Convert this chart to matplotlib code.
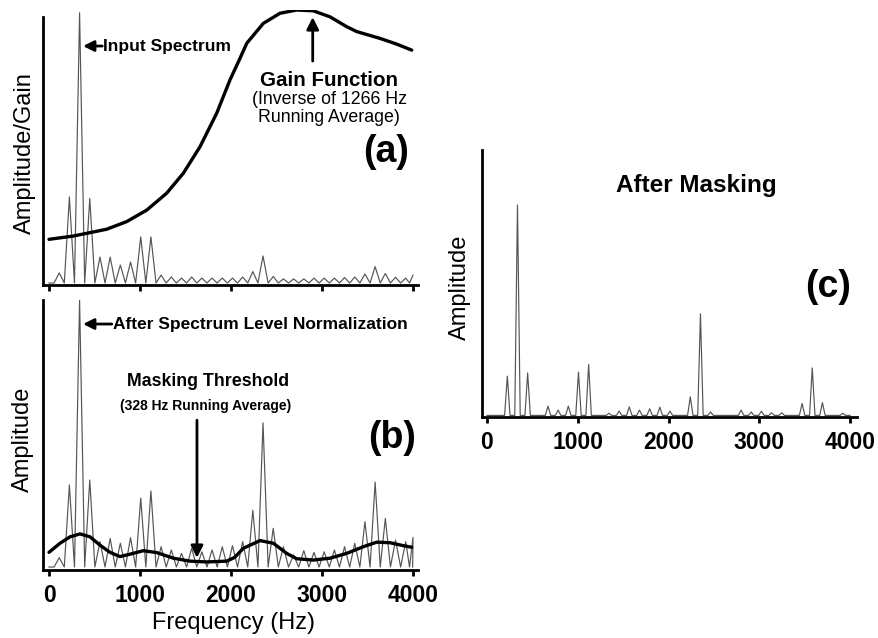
import matplotlib
matplotlib.use('Agg')
import matplotlib.pyplot as plt

plt.rcParams['font.family'] = ['Liberation Sans', 'DejaVu Sans']

###################################
# Data
###################################

# Harmonic frequencies (Hz), fundamental ~112 Hz
harmonicHz = [112, 224, 336, 448, 560, 672, 784, 896, 1008, 1120,
              1232, 1344, 1456, 1568, 1680, 1792, 1904, 2016, 2128, 2240,
              2352, 2464, 2576, 2688, 2800, 2912, 3024, 3136, 3248, 3360,
              3472, 3584, 3696, 3808, 3920]

# (a) input spectrum, peak height of each harmonic
inputPeaks = [3.7, 31.5, 99.0, 31.0, 9.5, 9.5, 6.6, 7.7, 16.9, 16.9,
              2.9, 2.2, 1.8, 2.2, 1.8, 1.8, 1.8, 1.8, 2.2, 4.2,
              9.9, 2.4, 1.5, 1.5, 1.5, 1.8, 1.8, 1.8, 2.0, 2.2,
              3.3, 6.0, 3.5, 2.1, 1.8]
inputEnd = 2.9

# (b) after spectrum level normalization
normPeaks = [3.5, 30.7, 100.0, 32.6, 9.5, 10.7, 8.9, 11.0, 25.8, 28.5,
             7.6, 6.4, 5.1, 7.0, 5.7, 6.4, 7.6, 8.0, 9.5, 21.3,
             54.0, 14.5, 7.6, 4.5, 6.1, 5.5, 5.7, 6.4, 7.6, 8.9,
             17.0, 31.8, 18.2, 10.1, 9.5]
normEnd = 11.1

# (c) after masking
maskedPeaks = [0, 14.8, 79.3, 16.0, 0, 3.5, 2.0, 3.5, 16.3, 19.2,
               0, 0.8, 1.6, 3.2, 2.0, 2.5, 3.1, 1.6, 0, 7.0,
               38.3, 1.3, 0, 0, 2.0, 1.3, 1.6, 1.0, 1.0, 0,
               4.5, 17.9, 4.8, 0, 0.8]

# Gain function (inverse of 1266 Hz running average)
gainHz = [0, 267, 634, 854, 1074, 1293, 1476, 1659, 1843, 1989, 2099,
          2173, 2355, 2538, 2722, 2904, 3088, 3271, 3381, 3637, 3821, 3986]
gainVal = [16.0, 17.2, 19.7, 22.5, 26.7, 32.9, 40.2, 49.9, 62.2, 74.4, 82.3,
           87.8, 95.1, 98.8, 100.0, 99.7, 97.5, 93.9, 92.1, 89.6, 87.5, 85.3]

# Masking threshold (328 Hz running average)
threshHz = [0, 121, 231, 341, 451, 560, 670, 780, 890, 1036, 1184, 1366,
            1549, 1733, 1953, 2040, 2135, 2319, 2465, 2612, 2722, 2904,
            3088, 3271, 3454, 3601, 3747, 3893, 3986]
threshVal = [5.5, 8.9, 11.3, 12.4, 11.3, 8.2, 5.5, 3.9, 4.8, 6.1, 5.4, 3.3,
             2.2, 1.9, 2.2, 3.6, 7.0, 9.9, 8.9, 5.1, 3.1, 2.6,
             3.3, 5.1, 7.6, 9.3, 9.1, 8.0, 7.4]

xTicks = [0, 1000, 2000, 3000, 4000]

specColor = '#555555'
W, H = 879, 638


def zigzag(peaks, endVal):
    # spectrum line: trough half way between harmonics, peak on harmonic
    xs, ys = [0], [0]
    for f, a in zip(harmonicHz, peaks):
        xs += [f - 56, f]
        ys += [0, a]
    xs += [3962, 4000]
    ys += [0, endVal]
    return xs, ys


def narrowPeaks(peaks, halfWidth=30):
    xs, ys = [0], [0]
    for f, a in zip(harmonicHz, peaks):
        xs += [f - halfWidth, f, f + halfWidth]
        ys += [0, a, 0]
    xs.append(4000)
    ys.append(0)
    return xs, ys


def pxAxes(fig, x0, y0, x1, y1):
    # axes from pixel box (top-left origin)
    return fig.add_axes([x0 / W, 1 - y1 / H, (x1 - x0) / W, (y1 - y0) / H])


def styleAxes(ax, labels=True):
    for side in ['top', 'right']:
        ax.spines[side].set_visible(False)
    for side in ['left', 'bottom']:
        ax.spines[side].set_linewidth(2)
    ax.set_yticks([])
    ax.set_xticks(xTicks)
    ax.tick_params(axis='x', direction='out', length=4, width=2, pad=6,
                   labelsize=16.5, labelbottom=labels)
    for t in ax.get_xticklabels():
        t.set_fontweight('bold')


def arrow(ax, tip, tail, scale=14):
    ax.annotate('', xy=tip, xytext=tail,
                arrowprops=dict(arrowstyle='-|>', color='black', lw=2,
                                mutation_scale=scale, shrinkA=0, shrinkB=0))


fig = plt.figure(figsize=(W / 100, H / 100), dpi=100)

###################################
# (a) Input spectrum + gain
###################################
axA = pxAxes(fig, 43, 10, 418, 285)
xs, ys = zigzag(inputPeaks, inputEnd)
axA.plot(xs, ys, color=specColor, lw=0.85)
axA.plot(gainHz, gainVal, color='black', lw=2.4, solid_capstyle='round')
axA.set_xlim(-66, 4055)
axA.set_ylim(-0.73, 100)
styleAxes(axA, labels=False)
axA.spines['left'].set_bounds(-0.73, 97.4)

arrow(axA, (374, 86.8), (585, 86.8), scale=16)
axA.text(593, 86.8, 'Input Spectrum', fontsize=12.5, fontweight='bold',
         ha='left', va='center')
arrow(axA, (2898, 97.4), (2898, 81.3), scale=18)
axA.text(3077, 74, 'Gain Function', fontsize=14.8, fontweight='bold',
         ha='center', va='center')
axA.text(3077, 67.2, '(Inverse of 1266 Hz', fontsize=12.8,
         ha='center', va='center')
axA.text(3077, 60.8, 'Running Average)', fontsize=12.8,
         ha='center', va='center')
axA.text(3703, 48, '(a)', fontsize=27, fontweight='bold',
         ha='center', va='center')

###################################
# (b) Normalized spectrum + masking threshold
###################################
axB = pxAxes(fig, 43, 300, 418, 570)
xs, ys = zigzag(normPeaks, normEnd)
xs += [3996]
ys += [0]
axB.plot(xs, ys, color=specColor, lw=0.85)
axB.plot(threshHz, threshVal, color='black', lw=2.4, solid_capstyle='round')
axB.set_xlim(-66, 4055)
axB.set_ylim(-1.12, 100)
styleAxes(axB)

arrow(axB, (374, 91), (690, 91), scale=16)
axB.text(703, 91, 'After Spectrum Level Normalization', fontsize=12.5,
         fontweight='bold', ha='left', va='center')
axB.text(1747, 69.3, 'Masking Threshold', fontsize=12.8, fontweight='bold',
         ha='center', va='center')
axB.text(1725, 60.3, '(328 Hz Running Average)', fontsize=10,
         fontweight='bold', ha='center', va='center')
arrow(axB, (1626, 3.4), (1626, 55), scale=18)
axB.text(3769, 48.3, '(b)', fontsize=27, fontweight='bold',
         ha='center', va='center')

###################################
# (c) After masking
###################################
axC = pxAxes(fig, 482, 150, 857, 417)
xs, ys = narrowPeaks(maskedPeaks)
axC.plot(xs, ys, color=specColor, lw=0.85)
axC.set_xlim(-55, 4077)
axC.set_ylim(-0.6, 100)
styleAxes(axC)
axC.text(2303, 86.8, 'After Masking', fontsize=17.5, fontweight='bold',
         ha='center', va='center')
axC.text(3758, 48.5, '(c)', fontsize=27, fontweight='bold',
         ha='center', va='center')

# Axis titles
fig.text(25 / W, 1 - 153 / H, 'Amplitude/Gain', fontsize=17, rotation=90,
         ha='center', va='center')
fig.text(23 / W, 1 - 439 / H, 'Amplitude', fontsize=17, rotation=90,
         ha='center', va='center')
fig.text(460 / W, 1 - 287 / H, 'Amplitude', fontsize=17, rotation=90,
         ha='center', va='center')
fig.text(233 / W, 1 - 623 / H, 'Frequency (Hz)', fontsize=17,
         ha='center', va='center')

plt.savefig('out.png', dpi=100)
